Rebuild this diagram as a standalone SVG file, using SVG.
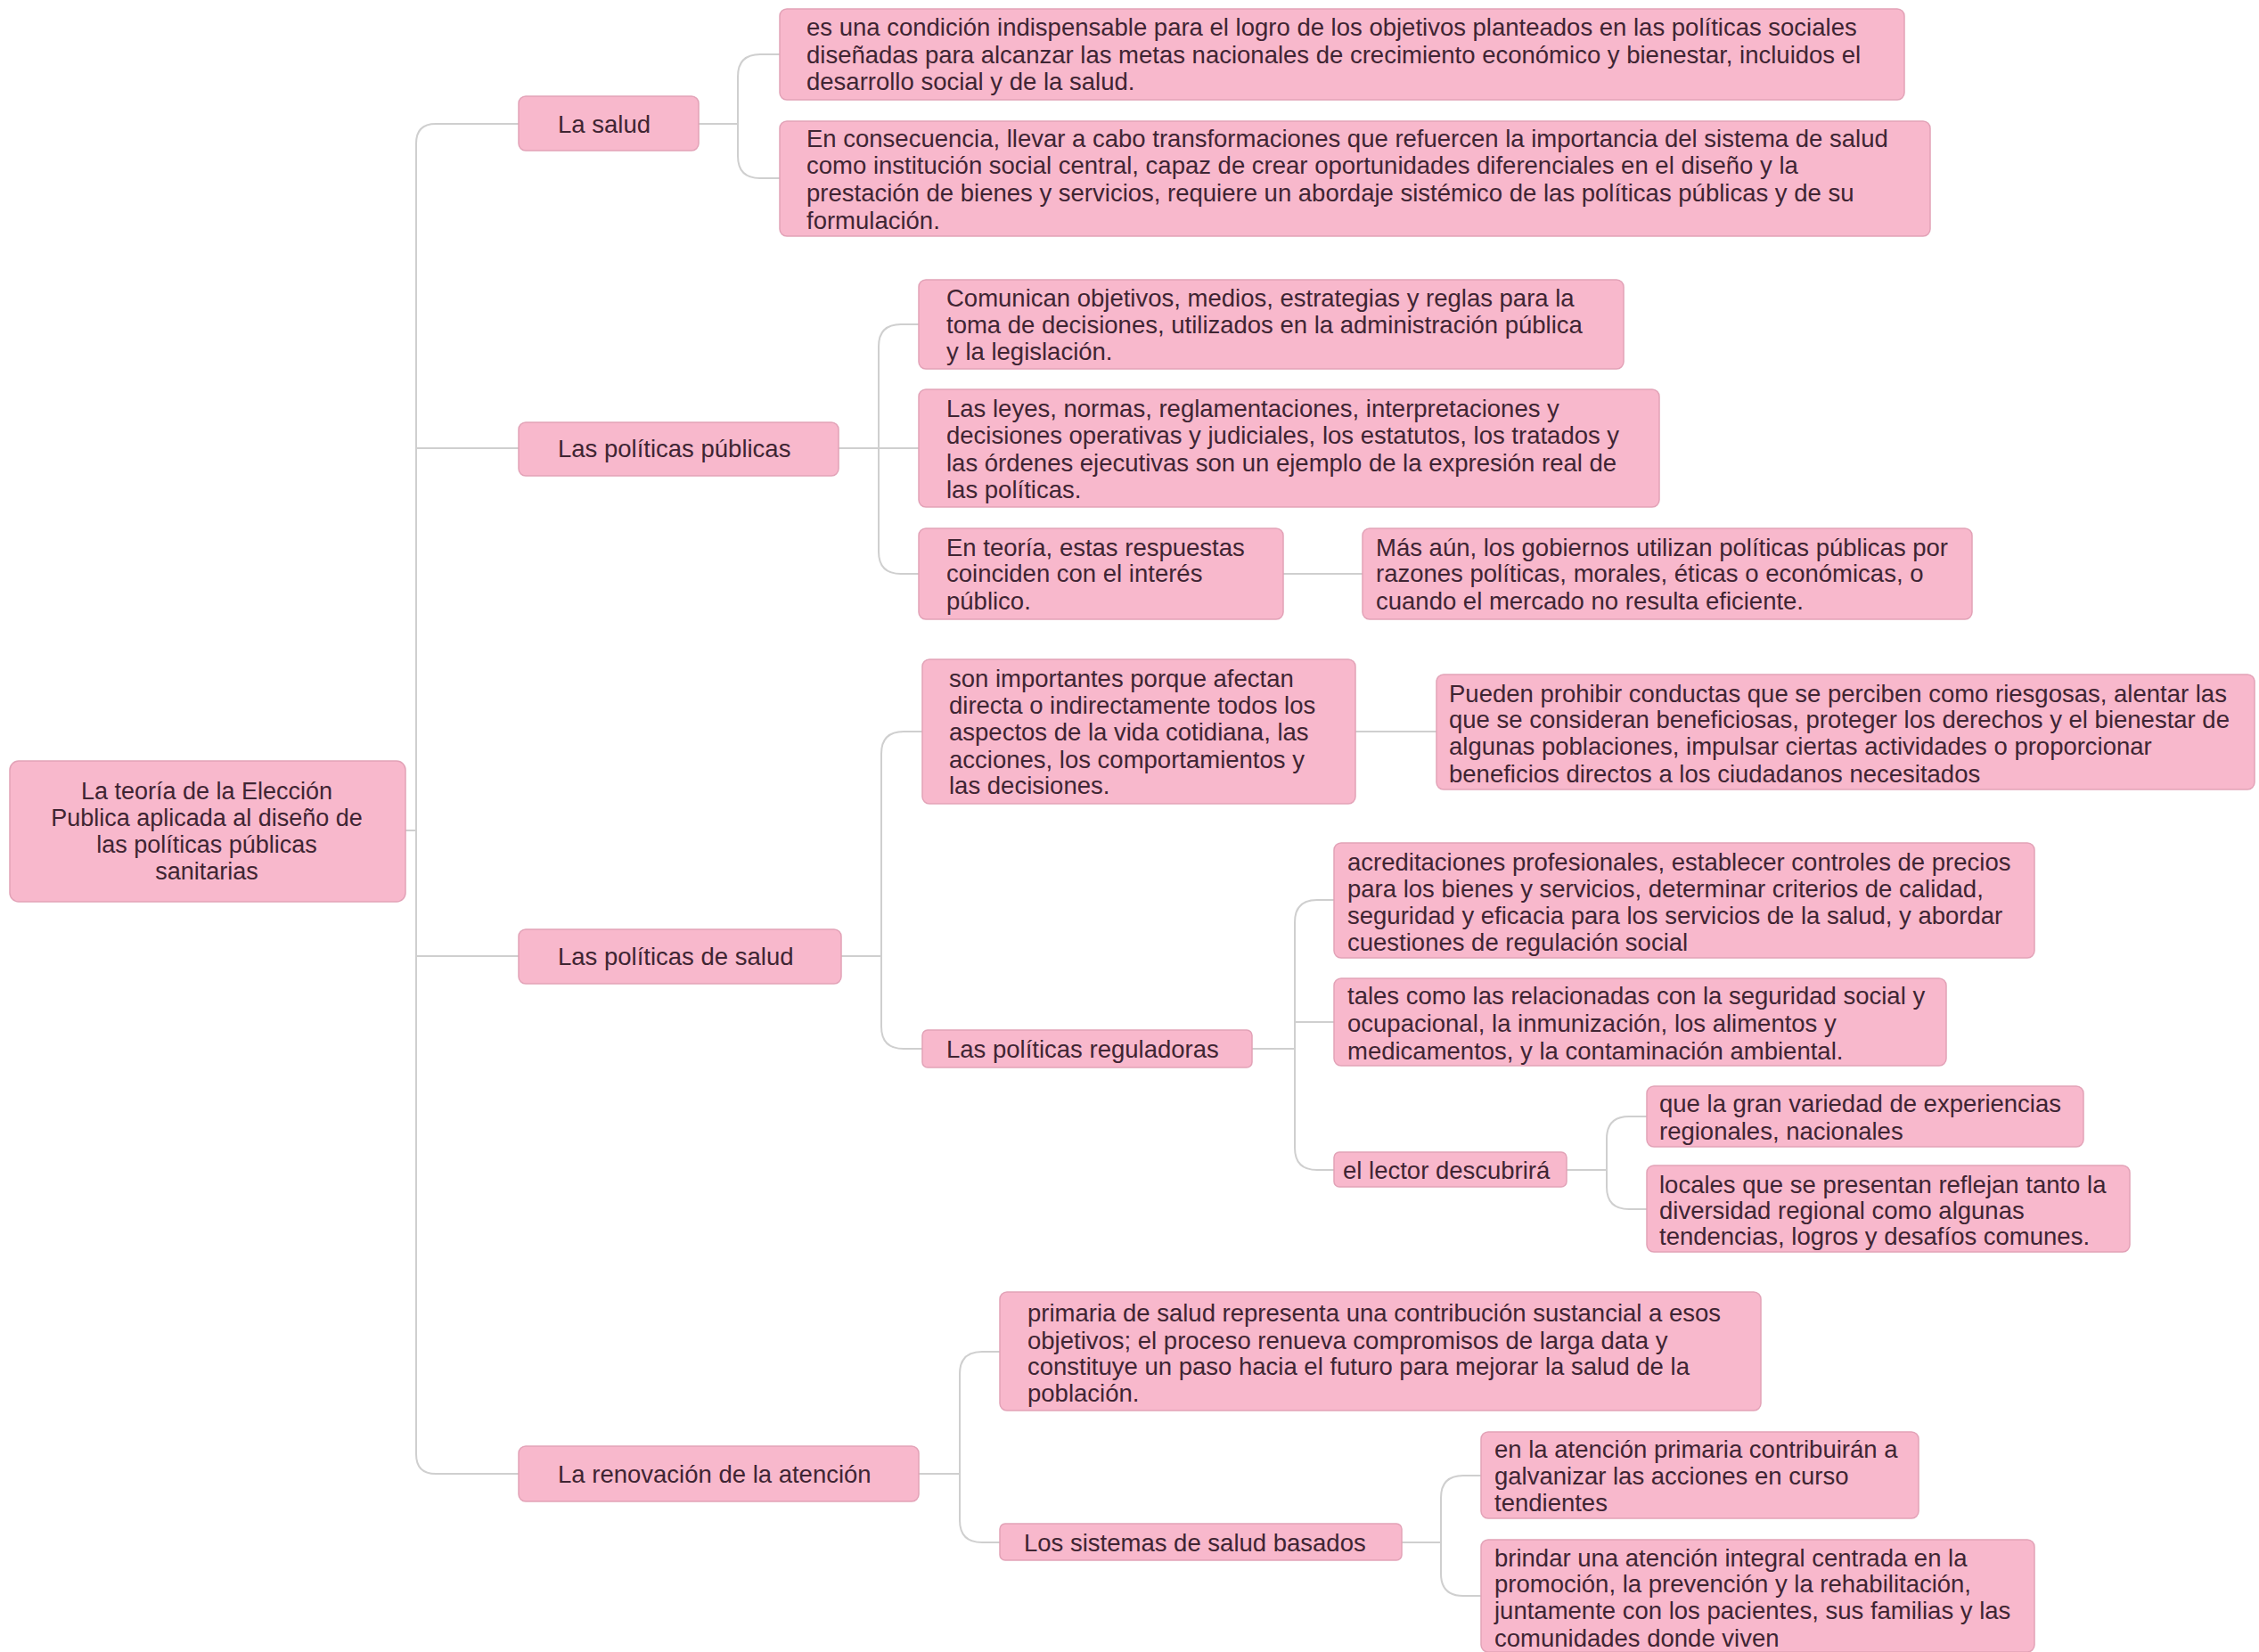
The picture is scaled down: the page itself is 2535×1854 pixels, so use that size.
<svg xmlns="http://www.w3.org/2000/svg" width="2535" height="1854" viewBox="0 0 2535 1854">
<style>
.n rect{fill:#f8b8cc;stroke:#e2a2b7;stroke-width:1.5}
.n text{font-family:"Liberation Sans",Arial,sans-serif;font-size:27.5px;fill:#3f2533}
.r text{font-size:27px}
.c path{fill:none;stroke:#cfcfcf;stroke-width:2}
</style>
<rect width="2535" height="1854" fill="#ffffff"/>
<g class="c" id="connectors">
<path d="M455 932 H467"/>
<path d="M582 139 H489 Q467 139 467 161 V1632 Q467 1654 489 1654 H582"/>
<path d="M467 503 H582"/>
<path d="M467 1073 H582"/>
<path d="M784 139 H828"/>
<path d="M875 61 H853 Q828 61 828 86 V175 Q828 200 853 200 H875"/>
<path d="M941 503 H986"/>
<path d="M1031 364 H1011 Q986 364 986 389 V619 Q986 644 1011 644 H1031"/>
<path d="M986 503 H1031"/>
<path d="M1440 644 H1529"/>
<path d="M944 1073 H989"/>
<path d="M1035 821 H1014 Q989 821 989 846 V1152 Q989 1177 1014 1177 H1035"/>
<path d="M1521 821 H1612"/>
<path d="M1405 1177 H1453"/>
<path d="M1497 1010 H1478 Q1453 1010 1453 1035 V1288 Q1453 1313 1478 1313 H1497"/>
<path d="M1453 1147 H1497"/>
<path d="M1758 1313 H1803"/>
<path d="M1848 1253 H1828 Q1803 1253 1803 1278 V1332 Q1803 1357 1828 1357 H1848"/>
<path d="M1031 1654 H1077"/>
<path d="M1122 1517 H1102 Q1077 1517 1077 1542 V1706 Q1077 1731 1102 1731 H1122"/>
<path d="M1573 1731 H1617"/>
<path d="M1662 1656 H1642 Q1617 1656 1617 1681 V1766 Q1617 1791 1642 1791 H1662"/>
</g>
<g class="n r" id="root">
<rect x="11" y="854" width="444" height="158" rx="10"/>
<text text-anchor="middle" x="232"><tspan x="232" y="897">La teoría de la Elección</tspan><tspan x="232" y="927">Publica aplicada al diseño de</tspan><tspan x="232" y="957">las políticas públicas</tspan><tspan x="232" y="987">sanitarias</tspan></text>
</g>
<g class="n" id="la-salud">
<rect x="582" y="108" width="202" height="61" rx="8"/>
<text x="626" y="149">La salud</text>
</g>
<g class="n" id="salud-1">
<rect x="875" y="10" width="1262" height="102" rx="8"/>
<text><tspan x="905" y="40">es una condición indispensable para el logro de los objetivos planteados en las políticas sociales</tspan><tspan x="905" y="71">diseñadas para alcanzar las metas nacionales de crecimiento económico y bienestar, incluidos el</tspan><tspan x="905" y="101">desarrollo social y de la salud.</tspan></text>
</g>
<g class="n" id="salud-2">
<rect x="875" y="136" width="1291" height="129" rx="8"/>
<text><tspan x="905" y="165">En consecuencia, llevar a cabo transformaciones que refuercen la importancia del sistema de salud</tspan><tspan x="905" y="195">como institución social central, capaz de crear oportunidades diferenciales en el diseño y la</tspan><tspan x="905" y="226">prestación de bienes y servicios, requiere un abordaje sistémico de las políticas públicas y de su</tspan><tspan x="905" y="257">formulación.</tspan></text>
</g>
<g class="n" id="politicas-publicas">
<rect x="582" y="474" width="359" height="60" rx="8"/>
<text x="626" y="513">Las políticas públicas</text>
</g>
<g class="n" id="pp-1">
<rect x="1031" y="314" width="791" height="100" rx="8"/>
<text><tspan x="1062" y="344">Comunican objetivos, medios, estrategias y reglas para la</tspan><tspan x="1062" y="374">toma de decisiones, utilizados en la administración pública</tspan><tspan x="1062" y="404">y la legislación.</tspan></text>
</g>
<g class="n" id="pp-2">
<rect x="1031" y="437" width="831" height="132" rx="8"/>
<text><tspan x="1062" y="468">Las leyes, normas, reglamentaciones, interpretaciones y</tspan><tspan x="1062" y="498">decisiones operativas y judiciales, los estatutos, los tratados y</tspan><tspan x="1062" y="529">las órdenes ejecutivas son un ejemplo de la expresión real de</tspan><tspan x="1062" y="559">las políticas.</tspan></text>
</g>
<g class="n" id="pp-3">
<rect x="1031" y="593" width="409" height="102" rx="8"/>
<text><tspan x="1062" y="624">En teoría, estas respuestas</tspan><tspan x="1062" y="653">coinciden con el interés</tspan><tspan x="1062" y="684">público.</tspan></text>
</g>
<g class="n" id="pp-3-1">
<rect x="1529" y="593" width="684" height="102" rx="8"/>
<text><tspan x="1544" y="624">Más aún, los gobiernos utilizan políticas públicas por</tspan><tspan x="1544" y="653">razones políticas, morales, éticas o económicas, o</tspan><tspan x="1544" y="684">cuando el mercado no resulta eficiente.</tspan></text>
</g>
<g class="n" id="politicas-salud">
<rect x="582" y="1043" width="362" height="61" rx="8"/>
<text x="626" y="1083">Las políticas de salud</text>
</g>
<g class="n" id="ps-1">
<rect x="1035" y="740" width="486" height="162" rx="8"/>
<text><tspan x="1065" y="771">son importantes porque afectan</tspan><tspan x="1065" y="801">directa o indirectamente todos los</tspan><tspan x="1065" y="831">aspectos de la vida cotidiana, las</tspan><tspan x="1065" y="862">acciones, los comportamientos y</tspan><tspan x="1065" y="891">las decisiones.</tspan></text>
</g>
<g class="n" id="ps-1-1">
<rect x="1612" y="757" width="918" height="129" rx="8"/>
<text><tspan x="1626" y="788">Pueden prohibir conductas que se perciben como riesgosas, alentar las</tspan><tspan x="1626" y="817">que se consideran beneficiosas, proteger los derechos y el bienestar de</tspan><tspan x="1626" y="847">algunas poblaciones, impulsar ciertas actividades o proporcionar</tspan><tspan x="1626" y="878">beneficios directos a los ciudadanos necesitados</tspan></text>
</g>
<g class="n" id="reguladoras">
<rect x="1035" y="1156" width="370" height="42" rx="6"/>
<text x="1062" y="1187">Las políticas reguladoras</text>
</g>
<g class="n" id="reg-1">
<rect x="1497" y="946" width="786" height="129" rx="8"/>
<text><tspan x="1512" y="977">acreditaciones profesionales, establecer controles de precios</tspan><tspan x="1512" y="1007">para los bienes y servicios, determinar criterios de calidad,</tspan><tspan x="1512" y="1037">seguridad y eficacia para los servicios de la salud, y abordar</tspan><tspan x="1512" y="1067">cuestiones de regulación social</tspan></text>
</g>
<g class="n" id="reg-2">
<rect x="1497" y="1098" width="687" height="98" rx="8"/>
<text><tspan x="1512" y="1127">tales como las relacionadas con la seguridad social y</tspan><tspan x="1512" y="1158">ocupacional, la inmunización, los alimentos y</tspan><tspan x="1512" y="1189">medicamentos, y la contaminación ambiental.</tspan></text>
</g>
<g class="n" id="lector">
<rect x="1497" y="1293" width="261" height="39" rx="6"/>
<text x="1507" y="1323">el lector descubrirá</text>
</g>
<g class="n" id="lector-1">
<rect x="1848" y="1219" width="490" height="68" rx="8"/>
<text><tspan x="1862" y="1248">que la gran variedad de experiencias</tspan><tspan x="1862" y="1279">regionales, nacionales</tspan></text>
</g>
<g class="n" id="lector-2">
<rect x="1848" y="1308" width="542" height="97" rx="8"/>
<text><tspan x="1862" y="1339">locales que se presentan reflejan tanto la</tspan><tspan x="1862" y="1368">diversidad regional como algunas</tspan><tspan x="1862" y="1397">tendencias, logros y desafíos comunes.</tspan></text>
</g>
<g class="n" id="renovacion">
<rect x="582" y="1623" width="449" height="62" rx="8"/>
<text x="626" y="1664">La renovación de la atención</text>
</g>
<g class="n" id="ren-1">
<rect x="1122" y="1450" width="854" height="133" rx="8"/>
<text><tspan x="1153" y="1483">primaria de salud representa una contribución sustancial a esos</tspan><tspan x="1153" y="1514">objetivos; el proceso renueva compromisos de larga data y</tspan><tspan x="1153" y="1543">constituye un paso hacia el futuro para mejorar la salud de la</tspan><tspan x="1153" y="1573">población.</tspan></text>
</g>
<g class="n" id="sistemas">
<rect x="1122" y="1710" width="451" height="41" rx="6"/>
<text x="1149" y="1741">Los sistemas de salud basados</text>
</g>
<g class="n" id="sist-1">
<rect x="1662" y="1607" width="491" height="97" rx="8"/>
<text><tspan x="1677" y="1636">en la atención primaria contribuirán a</tspan><tspan x="1677" y="1666">galvanizar las acciones en curso</tspan><tspan x="1677" y="1696">tendientes</tspan></text>
</g>
<g class="n" id="sist-2">
<rect x="1662" y="1728" width="621" height="126" rx="8"/>
<text><tspan x="1677" y="1758">brindar una atención integral centrada en la</tspan><tspan x="1677" y="1787">promoción, la prevención y la rehabilitación,</tspan><tspan x="1677" y="1817">juntamente con los pacientes, sus familias y las</tspan><tspan x="1677" y="1848">comunidades donde viven</tspan></text>
</g>
</svg>
